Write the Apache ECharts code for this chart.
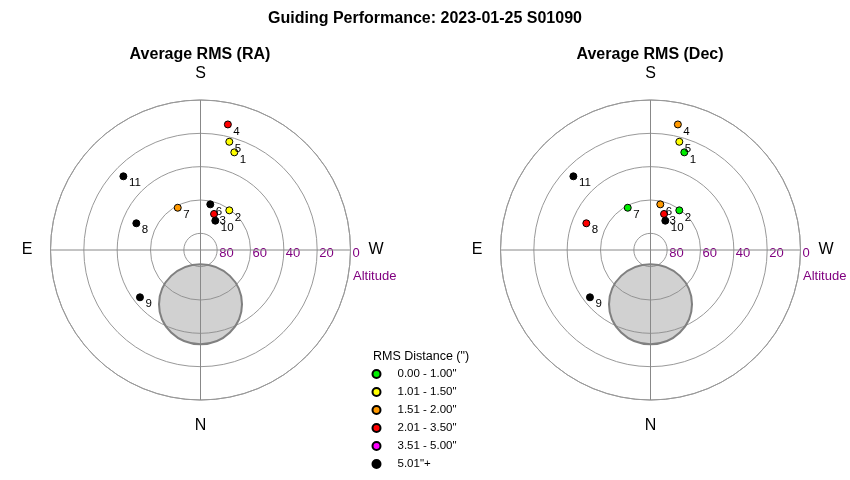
<!DOCTYPE html>
<html>
<head>
<meta charset="utf-8">
<script src="https://cdn.jsdelivr.net/npm/echarts@6/dist/echarts.min.js"></script>
<style>
html,body{margin:0;padding:0;background:#fff;}
#chart{width:850px;height:480px;}
</style>
</head>
<body>
<div id="chart"></div>
<script>
// ---- data ----
const mainTitle = 'Guiding Performance: 2023-01-25 S01090';
const panelTitles = ['Average RMS (RA)', 'Average RMS (Dec)'];
const binLabels = ['0.00 - 1.00"', '1.01 - 1.50"', '1.51 - 2.00"', '2.01 - 3.50"', '3.51 - 5.00"', '5.01"+'];
const binColors = ['#00ee00', '#ffff00', '#ff9900', '#ff0000', '#ff00ff', '#000000'];
const pointIds    = [1, 2, 3, 4, 5, 6, 7, 8, 9, 10, 11];
const altitudeDeg = [28.0, 60.6, 66.9, 12.9, 22.8, 62.0, 61.2, 48.3, 43.9, 70.3, 26.0];
const azimuthDeg  = [199.1, 216.0, 200.6, 192.3, 194.9, 192.1, 151.7, 112.6, 52.0, 206.8, 133.7];
const raBin  = [1, 1, 3, 3, 1, 5, 2, 5, 5, 5, 5];
const decBin = [0, 0, 3, 2, 1, 2, 0, 3, 5, 5, 5];
const altitudeTickLabels = ['0', '20', '40', '60', '80'];
const compassLabels = { '-90': 'W', '0': 'N', '90': 'E', '180': 'S' };
const zoneAlt = [57.5];
const zoneAz = [0];
// ---------------------------------------

const centers = [[200.5, 250], [650.5, 250]];
const binsPerPanel = [raBin, decBin];

const polar = centers.map(c => ({ center: c, radius: 150 }));

const angleAxis = centers.map((c, i) => ({
  polarIndex: i, type: 'value', min: -90, max: 270, interval: 90,
  startAngle: 0, clockwise: true,
  axisLine: { show: true, lineStyle: { color: '#999', width: 1 } },
  axisTick: { show: false },
  splitLine: { show: false },
  axisLabel: {
    margin: 18, fontSize: 16, color: '#000', fontFamily: 'Liberation Sans',
    formatter: v => compassLabels[String(v)] || ''
  }
}));

const radiusAxis = centers.map((c, i) => ({
  polarIndex: i, type: 'value', min: 0, max: 90, interval: 20, inverse: true,
  axisLine: { show: false },
  axisTick: { show: false },
  splitLine: { show: true, lineStyle: { color: '#999', width: 1 } },
  axisLabel: {
    inside: true, margin: 3, align: 'left', verticalAlign: 'top',
    padding: [0, 0, 0, 2],
    fontSize: 13, color: '#800080', fontFamily: 'Liberation Sans',
    formatter: v => altitudeTickLabels.indexOf(String(v)) >= 0 ? String(v) : ''
  }
}));

const series = [];
centers.forEach((c, p) => {
  // gray zone disk (translucent so the grid shows through)
  series.push({
    type: 'scatter', coordinateSystem: 'polar', polarIndex: p, silent: true, z: 1,
    symbol: 'circle', symbolSize: [83, 80],
    itemStyle: { color: 'rgba(140,140,140,0.4)', borderColor: '#808080', borderWidth: 2, opacity: 1 },
    data: zoneAlt.map((a, k) => [a, zoneAz[k]])
  });
  // cross lines (W-E and N-S), extended slightly beyond horizon
  series.push({
    type: 'line', coordinateSystem: 'polar', polarIndex: p, silent: true, clip: false,
    symbol: 'none', z: 1, lineStyle: { color: '#888', width: 1 },
    data: [[-6, -90], [-6, 90]]
  });
  series.push({
    type: 'line', coordinateSystem: 'polar', polarIndex: p, silent: true, clip: false,
    symbol: 'none', z: 1, lineStyle: { color: '#888', width: 1 },
    data: [[-6, 0], [-6, 180]]
  });
  // points grouped by RMS bin
  binLabels.forEach((lab, b) => {
    const data = [];
    pointIds.forEach((id, k) => {
      if (binsPerPanel[p][k] === b) data.push([altitudeDeg[k], azimuthDeg[k], id]);
    });
    series.push({
      name: lab, type: 'scatter', coordinateSystem: 'polar', polarIndex: p, z: 3,
      symbol: 'circle', symbolSize: 7,
      itemStyle: { color: binColors[b], borderColor: '#000', borderWidth: 1, opacity: 1 },
      label: {
        show: true, position: 'right', distance: 1.5, offset: [0, 7],
        formatter: q => String(q.value[2]),
        fontSize: 11.5, color: '#000', fontFamily: 'Liberation Sans'
      },
      data: data
    });
  });
});

const titles = [
  { text: mainTitle, left: 425, top: 18.5, textAlign: 'center', textVerticalAlign: 'middle', padding: 0,
    textStyle: { fontSize: 16, fontWeight: 'bold', color: '#000', fontFamily: 'Liberation Sans' } },
  { text: panelTitles[0], left: 200, top: 54.5, textAlign: 'center', textVerticalAlign: 'middle', padding: 0,
    textStyle: { fontSize: 16, fontWeight: 'bold', color: '#000', fontFamily: 'Liberation Sans' } },
  { text: panelTitles[1], left: 650, top: 54.5, textAlign: 'center', textVerticalAlign: 'middle', padding: 0,
    textStyle: { fontSize: 16, fontWeight: 'bold', color: '#000', fontFamily: 'Liberation Sans' } },
  { text: 'Altitude', left: 353, top: 276.5, textAlign: 'left', textVerticalAlign: 'middle', padding: 0,
    textStyle: { fontSize: 13, fontWeight: 'normal', color: '#800080', fontFamily: 'Liberation Sans' } },
  { text: 'Altitude', left: 803, top: 276.5, textAlign: 'left', textVerticalAlign: 'middle', padding: 0,
    textStyle: { fontSize: 13, fontWeight: 'normal', color: '#800080', fontFamily: 'Liberation Sans' } },
  { text: 'RMS Distance (")', left: 373, top: 357, textAlign: 'left', textVerticalAlign: 'middle', padding: 0,
    textStyle: { fontSize: 12.5, fontWeight: 'normal', color: '#000', fontFamily: 'Liberation Sans' } }
];

const chart = echarts.init(document.getElementById('chart'), null, { renderer: 'canvas' });
chart.setOption({
  backgroundColor: '#fff',
  animation: false,
  title: titles,
  legend: {
    data: binLabels, orient: 'vertical', left: 371.5, top: 367, padding: 0,
    itemWidth: 8, itemHeight: 8, itemGap: 4, icon: 'circle', selectedMode: false,
    textStyle: { fontSize: 11.5, lineHeight: 14, color: '#000', fontFamily: 'Liberation Sans', padding: [0, 0, 0, 12] }
  },
  polar: polar,
  angleAxis: angleAxis,
  radiusAxis: radiusAxis,
  series: series
});
</script>
</body>
</html>
